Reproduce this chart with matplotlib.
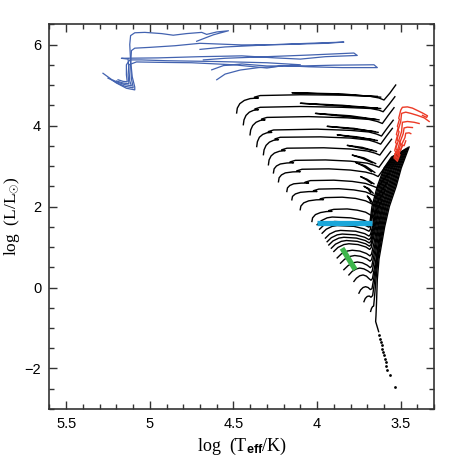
import matplotlib
matplotlib.use('Agg')
import matplotlib.pyplot as plt
from matplotlib.ticker import MultipleLocator, FuncFormatter

# --- massive star tracks (blue), (logTeff, logL) pairs ---
blue_tracks = [
    [(4.72, 6.08), (4.62, 6.24), (4.53, 6.34), (4.60, 6.31), (4.66, 6.25), (4.69, 6.30), (4.78, 6.27),
     (4.86, 6.23), (4.93, 6.27), (5.03, 6.30), (5.09, 6.29), (5.115, 6.22), (5.12, 6.00), (5.115, 5.60),
     (5.105, 5.20), (5.09, 4.95), (5.09, 4.88), (5.14, 4.92), (5.20, 5.05), (5.25, 5.20), (5.28, 5.29)],
    [(4.70, 5.88), (4.55, 5.94), (4.30, 5.99), (4.05, 6.03), (3.84, 6.06), (3.95, 6.03), (4.20, 6.00),
     (4.45, 5.99), (4.70, 6.03), (4.85, 5.97), (5.00, 5.93), (5.09, 5.91), (5.11, 5.85), (5.115, 5.50),
     (5.11, 5.15), (5.10, 4.95), (5.10, 4.93), (5.15, 4.97), (5.20, 5.06), (5.235, 5.14), (5.25, 5.17)],
    [(4.68, 5.62), (4.55, 5.66), (4.30, 5.70), (4.05, 5.74), (3.78, 5.79), (3.76, 5.73), (3.95, 5.70),
     (4.10, 5.64), (4.25, 5.67), (4.45, 5.72), (4.70, 5.70), (4.95, 5.67), (5.17, 5.66), (5.13, 5.64),
     (5.125, 5.40), (5.12, 5.10), (5.11, 4.98), (5.15, 5.01), (5.20, 5.08), (5.22, 5.12)],
    [(4.63, 5.375), (4.56, 5.48), (4.45, 5.52), (4.30, 5.47), (4.10, 5.47), (3.90, 5.49), (3.66, 5.50),
     (3.64, 5.43), (3.85, 5.43), (4.05, 5.45), (4.20, 5.48), (4.30, 5.42), (4.50, 5.50), (4.75, 5.55),
     (4.95, 5.56), (5.08, 5.57), (5.125, 5.50), (5.13, 5.25), (5.125, 5.03), (5.16, 5.05), (5.20, 5.10)],
    [(4.60, 5.13), (4.55, 5.27), (4.46, 5.37), (4.35, 5.43), (4.20, 5.47), (4.10, 5.50), (4.30, 5.55),
     (4.60, 5.58), (4.90, 5.60), (5.05, 5.62), (5.12, 5.62), (5.14, 5.50), (5.14, 5.25), (5.135, 5.08),
     (5.16, 5.09), (5.19, 5.13)],
]

# --- intermediate mass tracks (black) ---
black_upper = [
    [(4.481, 4.31), (4.477, 4.43), (4.462, 4.54), (4.435, 4.62), (4.40, 4.665), (4.351, 4.68), (4.375, 4.70),
     (4.34, 4.74), (4.10, 4.76), (3.85, 4.75), (3.68, 4.72), (3.63, 4.68), (3.60, 4.63), (3.565, 4.80),
     (3.53, 5.00)],
    [(4.441, 4.02), (4.437, 4.14), (4.425, 4.25), (4.405, 4.33), (4.38, 4.375), (4.351, 4.39), (4.372, 4.41),
     (4.34, 4.45), (4.10, 4.47), (3.85, 4.45), (3.68, 4.42), (3.63, 4.38), (3.605, 4.34), (3.57, 4.52),
     (3.535, 4.71)],
    [(4.401, 3.77), (4.397, 3.89), (4.385, 4.00), (4.365, 4.08), (4.34, 4.125), (4.311, 4.14), (4.332, 4.16),
     (4.30, 4.20), (4.05, 4.22), (3.82, 4.19), (3.69, 4.15), (3.64, 4.10), (3.61, 4.05), (3.575, 4.25),
     (3.54, 4.44)],
    [(4.361, 3.48), (4.357, 3.60), (4.345, 3.71), (4.325, 3.78), (4.30, 3.82), (4.271, 3.83), (4.292, 3.85),
     (4.26, 3.89), (4.00, 3.91), (3.80, 3.88), (3.69, 3.84), (3.645, 3.79), (3.615, 3.74), (3.58, 3.94),
     (3.545, 4.13)],
    [(4.321, 3.28), (4.317, 3.40), (4.305, 3.51), (4.285, 3.59), (4.26, 3.635), (4.231, 3.65), (4.252, 3.67),
     (4.22, 3.71), (3.98, 3.72), (3.80, 3.69), (3.69, 3.64), (3.65, 3.59), (3.62, 3.54), (3.585, 3.74),
     (3.55, 3.93)],
    [(4.291, 3.03), (4.287, 3.15), (4.275, 3.25), (4.255, 3.32), (4.225, 3.365), (4.191, 3.38), (4.212, 3.40),
     (4.18, 3.44), (3.96, 3.45), (3.80, 3.42), (3.70, 3.37), (3.655, 3.32), (3.625, 3.27), (3.59, 3.47),
     (3.555, 3.66)],
    [(4.261, 2.83), (4.257, 2.93), (4.243, 3.00), (4.22, 3.05), (4.18, 3.075), (4.141, 3.08), (4.162, 3.10),
     (4.13, 3.14), (3.95, 3.15), (3.80, 3.12), (3.70, 3.07), (3.66, 3.02), (3.63, 2.97), (3.595, 3.17),
     (3.56, 3.36)],
    [(4.231, 2.61), (4.227, 2.71), (4.213, 2.78), (4.19, 2.83), (4.145, 2.855), (4.101, 2.86), (4.122, 2.88),
     (4.09, 2.92), (3.93, 2.93), (3.80, 2.90), (3.71, 2.85), (3.665, 2.80), (3.635, 2.74), (3.60, 2.94),
     (3.565, 3.12)],
    [(4.181, 2.37), (4.177, 2.46), (4.163, 2.52), (4.14, 2.56), (4.095, 2.578), (4.051, 2.58), (4.072, 2.60),
     (4.04, 2.64), (3.90, 2.65), (3.79, 2.62), (3.71, 2.57), (3.67, 2.51), (3.64, 2.46), (3.605, 2.65),
     (3.57, 2.83)],
    [(4.151, 2.165), (4.147, 2.25), (4.13, 2.31), (4.10, 2.35), (4.05, 2.368), (4.001, 2.37), (4.022, 2.39),
     (3.99, 2.43), (3.87, 2.44), (3.78, 2.41), (3.71, 2.36), (3.675, 2.30), (3.645, 2.24), (3.61, 2.42),
     (3.58, 2.60)],
    [(4.101, 1.92), (4.097, 2.01), (4.08, 2.09), (4.05, 2.14), (4.005, 2.165), (3.962, 2.17), (3.982, 2.19),
     (3.95, 2.22), (3.85, 2.23), (3.77, 2.20), (3.71, 2.14), (3.68, 2.08), (3.655, 2.02), (3.625, 2.20),
     (3.595, 2.38)],
    [(4.031, 1.63), (4.027, 1.72), (4.01, 1.80), (3.98, 1.85), (3.945, 1.875), (3.911, 1.88), (3.93, 1.90),
     (3.90, 1.93), (3.82, 1.94), (3.76, 1.91), (3.71, 1.86), (3.685, 1.80), (3.665, 1.75), (3.64, 1.95),
     (3.61, 2.15)],
]

# blue loops of the intermediate mass tracks
black_loops = [
    [(3.62, 4.70), (3.85, 4.78), (4.15, 4.81), (3.90, 4.77), (3.64, 4.72)],
    [(3.62, 4.42), (3.85, 4.50), (4.10, 4.55), (3.90, 4.49), (3.64, 4.43)],
    [(3.63, 4.14), (3.80, 4.24), (4.01, 4.30), (3.85, 4.23), (3.65, 4.15)],
    [(3.635, 3.83), (3.78, 3.93), (3.94, 3.98), (3.80, 3.92), (3.655, 3.85)],
    [(3.64, 3.63), (3.76, 3.72), (3.88, 3.77), (3.78, 3.71), (3.66, 3.65)],
    [(3.645, 3.36), (3.73, 3.46), (3.82, 3.51), (3.75, 3.45), (3.665, 3.38)],
    [(3.65, 3.06), (3.72, 3.20), (3.79, 3.27), (3.73, 3.19), (3.67, 3.08)],
    [(3.655, 2.84), (3.71, 3.00), (3.77, 3.09), (3.72, 2.99), (3.675, 2.86)],
    [(3.66, 2.56), (3.70, 2.67), (3.74, 2.74), (3.705, 2.66), (3.675, 2.57)],
    [(3.665, 2.33), (3.69, 2.44), (3.72, 2.50), (3.695, 2.43), (3.68, 2.34)],
    [(3.67, 2.10), (3.685, 2.20), (3.70, 2.26), (3.688, 2.19), (3.68, 2.11)],
]

# --- low mass tracks (black) ---
black_lower = [
    [(4.00, 1.55), (3.975, 1.65), (3.94, 1.72), (3.91, 1.74), (3.80, 1.72), (3.72, 1.66), (3.69, 1.60),
     (3.683, 1.64), (3.672, 2.0), (3.640, 2.5), (3.600, 2.95), (3.555, 3.22)],
    [(3.985, 1.44), (3.96, 1.54), (3.925, 1.61), (3.895, 1.63), (3.79, 1.61), (3.72, 1.55), (3.69, 1.49),
     (3.683, 1.53), (3.665, 2.0), (3.633, 2.5), (3.594, 2.95), (3.548, 3.236)],
    [(3.97, 1.34), (3.945, 1.44), (3.91, 1.51), (3.88, 1.53), (3.78, 1.51), (3.72, 1.45), (3.69, 1.39),
     (3.682, 1.43), (3.659, 2.0), (3.626, 2.5), (3.587, 2.95), (3.542, 3.251)],
    [(3.95, 1.22), (3.925, 1.32), (3.89, 1.39), (3.86, 1.41), (3.77, 1.39), (3.715, 1.33), (3.69, 1.27),
     (3.681, 1.31), (3.669, 1.5), (3.652, 2.0), (3.619, 2.5), (3.581, 2.95), (3.535, 3.267)],
    [(3.94, 1.13), (3.915, 1.23), (3.88, 1.30), (3.85, 1.32), (3.77, 1.30), (3.715, 1.24), (3.69, 1.18),
     (3.68, 1.22), (3.664, 1.5), (3.646, 2.0), (3.612, 2.5), (3.574, 2.95), (3.529, 3.283)],
    [(3.93, 1.05), (3.905, 1.15), (3.87, 1.22), (3.84, 1.24), (3.765, 1.22), (3.712, 1.16), (3.688, 1.10),
     (3.679, 1.14), (3.659, 1.5), (3.640, 2.0), (3.605, 2.5), (3.568, 2.95), (3.522, 3.298)],
    [(3.915, 0.97), (3.89, 1.07), (3.855, 1.14), (3.825, 1.16), (3.76, 1.14), (3.71, 1.08), (3.687, 1.02),
     (3.678, 1.06), (3.654, 1.5), (3.633, 2.0), (3.598, 2.5), (3.561, 2.95), (3.516, 3.314)],
    [(3.90, 0.89), (3.875, 0.99), (3.84, 1.06), (3.81, 1.08), (3.755, 1.06), (3.708, 1.00), (3.686, 0.94),
     (3.677, 0.98), (3.664, 1.2), (3.649, 1.5), (3.627, 2.0), (3.591, 2.5), (3.555, 2.95), (3.509, 3.329)],
    [(3.88, 0.73), (3.855, 0.83), (3.82, 0.90), (3.79, 0.92), (3.745, 0.90), (3.705, 0.84), (3.684, 0.78),
     (3.675, 0.82), (3.66, 1.1), (3.643, 1.5), (3.620, 2.0), (3.584, 2.5), (3.549, 2.95), (3.503, 3.345)],
    [(3.86, 0.60), (3.835, 0.70), (3.80, 0.77), (3.775, 0.79), (3.74, 0.77), (3.703, 0.71), (3.683, 0.65),
     (3.674, 0.69), (3.657, 1.0), (3.637, 1.5), (3.613, 2.0), (3.576, 2.5), (3.542, 2.95), (3.496, 3.361)],
    [(3.84, 0.44), (3.815, 0.54), (3.785, 0.61), (3.76, 0.63), (3.73, 0.61), (3.70, 0.55), (3.682, 0.49),
     (3.673, 0.53), (3.655, 0.9), (3.632, 1.5), (3.607, 2.0), (3.569, 2.5), (3.536, 2.95), (3.489, 3.376)],
    [(3.81, 0.31), (3.79, 0.40), (3.765, 0.46), (3.745, 0.48), (3.72, 0.46), (3.697, 0.41), (3.68, 0.36),
     (3.671, 0.40), (3.652, 0.8), (3.626, 1.5), (3.601, 2.0), (3.562, 2.5), (3.529, 2.95), (3.483, 3.392)],
    [(3.78, 0.15), (3.765, 0.23), (3.745, 0.29), (3.725, 0.31), (3.705, 0.28), (3.69, 0.22), (3.678, 0.18),
     (3.669, 0.22), (3.648, 0.7), (3.620, 1.5), (3.594, 2.0), (3.555, 2.5), (3.523, 2.95), (3.476, 3.408)],
    [(3.75, -0.14), (3.74, -0.06), (3.725, 0.0), (3.71, 0.02), (3.695, 0.0), (3.682, -0.05), (3.672, -0.03),
     (3.662, 0.2), (3.644, 0.7), (3.614, 1.5), (3.588, 2.0), (3.548, 2.5), (3.516, 2.95), (3.470, 3.423)],
    [(3.72, -0.35), (3.712, -0.27), (3.70, -0.22), (3.688, -0.21), (3.678, -0.24), (3.668, -0.20),
     (3.658, 0.1), (3.640, 0.7), (3.608, 1.5), (3.581, 2.0), (3.541, 2.5), (3.510, 2.95), (3.463, 3.439)],
    [(3.68, -0.59), (3.675, -0.52), (3.668, -0.47), (3.662, -0.46), (3.656, -0.2), (3.648, 0.2),
     (3.636, 0.7), (3.602, 1.5), (3.575, 2.0), (3.534, 2.5), (3.503, 2.95), (3.457, 3.454)],
    [(3.632, -1.09), (3.65, -0.84), (3.648, -0.70), (3.645, -0.40), (3.640, 0.2), (3.630, 0.7),
     (3.596, 1.5), (3.568, 2.0), (3.527, 2.5), (3.497, 2.95), (3.450, 3.470)],
]

# --- AGB tracks (red) ---
red_tracks = [
    [(3.540, 3.20), (3.530, 3.35), (3.536, 3.38), (3.525, 3.55), (3.531, 3.58), (3.520, 3.75), (3.526, 3.78),
     (3.515, 3.95), (3.520, 3.98), (3.508, 4.15), (3.512, 4.18), (3.500, 4.38), (3.490, 4.45), (3.460, 4.46),
     (3.430, 4.43), (3.400, 4.37), (3.370, 4.31), (3.340, 4.24), (3.345, 4.20), (3.370, 4.25)],
    [(3.535, 3.18), (3.522, 3.40), (3.530, 3.43), (3.515, 3.62), (3.522, 3.65), (3.510, 3.85), (3.516, 3.88),
     (3.500, 4.10), (3.495, 4.30), (3.470, 4.33), (3.440, 4.30), (3.400, 4.25), (3.360, 4.19), (3.330, 4.10)],
    [(3.530, 3.16), (3.515, 3.35), (3.520, 3.38), (3.505, 3.60), (3.512, 3.63), (3.495, 3.85), (3.490, 4.08),
     (3.460, 4.10), (3.420, 4.08), (3.390, 4.05)],
    [(3.525, 3.14), (3.510, 3.30), (3.515, 3.33), (3.500, 3.55), (3.505, 3.58), (3.485, 3.80), (3.480, 3.94),
     (3.460, 3.96), (3.430, 3.95)],
    [(3.520, 3.12), (3.505, 3.28), (3.510, 3.31), (3.490, 3.50), (3.495, 3.53), (3.475, 3.70), (3.470, 3.81),
     (3.450, 3.82), (3.440, 3.80)],
    [(3.535, 3.30), (3.520, 3.32), (3.510, 3.42), (3.500, 3.40), (3.490, 3.52), (3.480, 3.50), (3.470, 3.62)],
]

# very low mass points
dots_T = [3.628, 3.622, 3.618, 3.614, 3.610, 3.606, 3.600, 3.596, 3.590, 3.586, 3.580, 3.564, 3.532]
dots_L = [-1.185, -1.267, -1.348, -1.432, -1.514, -1.595, -1.679, -1.760, -1.842, -1.926, -2.032, -2.156, -2.459]

# highlighted bands
band_blue_T = [4.00, 3.67]
band_blue_L = [1.605, 1.605]
band_green_T = [3.851, 3.772]
band_green_L = [0.97, 0.44]

plt.rcParams['mathtext.fontset'] = 'custom'
plt.rcParams['mathtext.rm'] = 'Liberation Serif'
plt.rcParams['mathtext.it'] = 'Liberation Serif:italic'
plt.rcParams['mathtext.bf'] = 'Liberation Sans:bold'

fig = plt.figure(figsize=(4.58, 4.58), dpi=100)
ax = fig.add_axes([0.108, 0.107, 0.840, 0.840])

for trk in blue_tracks:
    T, L = zip(*trk)
    ax.plot(T, L, color='#4363b0', lw=0.9)

for trk in black_upper + black_loops + black_lower:
    T, L = zip(*trk)
    ax.plot(T, L, color='black', lw=1.0)

for trk in red_tracks:
    T, L = zip(*trk)
    ax.plot(T, L, color='#ec3a26', lw=1.0)

ax.plot(dots_T, dots_L, 'o', color='black', ms=2.0, mew=0)
ax.plot(band_blue_T, band_blue_L, color='#1aa6d9', lw=3.8, solid_capstyle='butt')
ax.plot(band_green_T, band_green_L, color='#3db54a', lw=3.8, solid_capstyle='butt')

ax.set_xlim(5.6, 3.3)
ax.set_ylim(-3.0, 6.5)

ax.xaxis.set_major_locator(MultipleLocator(0.5))
ax.xaxis.set_minor_locator(MultipleLocator(0.1))
ax.yaxis.set_major_locator(MultipleLocator(2))
ax.yaxis.set_minor_locator(MultipleLocator(0.5))
ax.xaxis.set_major_formatter(FuncFormatter(lambda v, p: '%g' % v))
ax.yaxis.set_major_formatter(FuncFormatter(lambda v, p: ('%g' % v).replace('-', '\u2212')))

ax.tick_params(which='both', direction='in', top=True, right=True, width=1.0, color='#333333')
ax.tick_params(which='major', length=6, labelsize=10.5, pad=6)
ax.tick_params(which='minor', length=3.5)
for lab in ax.get_xticklabels() + ax.get_yticklabels():
    lab.set_family('Liberation Sans')
for sp in ax.spines.values():
    sp.set_linewidth(1.2)
    sp.set_color('#333333')

ax.set_xlabel(r'log  (T$_{\mathbf{eff}}$/K)', fontsize=13, family='Liberation Serif', labelpad=3)
ax.set_ylabel(r'log  (L/L$_{\odot}$)', fontsize=12.5, family='Liberation Serif')
ax.yaxis.set_label_coords(-0.072, 0.5)

fig.savefig('out.png', dpi=100)
